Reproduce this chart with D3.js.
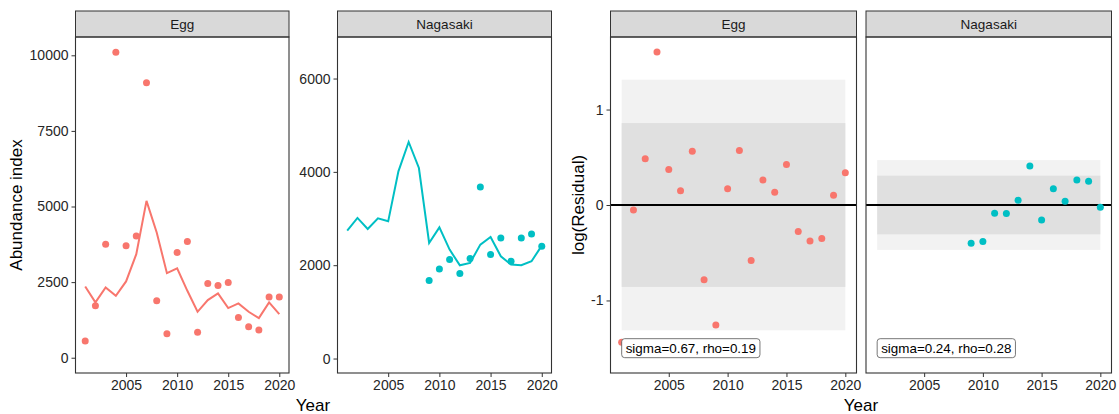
<!DOCTYPE html>
<html><head><meta charset="utf-8">
<script src="https://cdn.jsdelivr.net/npm/d3@7"></script>
<style>
body{margin:0;background:#fff;}
text{font-family:"Liberation Sans",Arial,sans-serif;}
</style></head>
<body><svg id="c" width="1119" height="414"></svg>
<script>
const years = d3.range(2001, 2021);
const eggObs  = [550,1717,3755,10100,3699,4029,9095,1882,793,3481,3844,839,2457,2391,2490,1334,1024,915,2005,2005];
const eggPred = [2358,1830,2325,2048,2523,3425,5185,4141,2797,2952,2213,1519,1906,2127,1641,1797,1519,1311,1830,1443];
const nagYears = d3.range(2009, 2021);
const nagObs  = [1670,1921,2120,1820,2141,3677,2227,2585,2084,2585,2670,2405];
const nagPred = [2741,3013,2777,3004,2940,4011,4640,4083,2477,2811,2334,1998,2049,2441,2606,2191,2013,1998,2084,2420];
const eggResid = [-1.438,-0.052,0.485,1.603,0.373,0.150,0.564,-0.784,-1.257,0.171,0.572,-0.581,0.261,0.133,0.425,-0.278,-0.376,-0.351,0.101,0.339];
const nagResid = [-0.400,-0.383,-0.087,-0.090,0.049,0.408,-0.157,0.171,0.039,0.261,0.248,-0.024];
const sigmas = [0.67, 0.24];
const rhos = [0.19, 0.28];
const facetNames = ["Egg", "Nagasaki"];
const xTicks = [2005, 2010, 2015, 2020];
const eggYTicks = [0, 2500, 5000, 7500, 10000];
const nagYTicks = [0, 2000, 4000, 6000];
const residYTicks = [-1, 0, 1];

const cols = ["#F8766D", "#00BFC4"];
const svg = d3.select("#c");
const pTop = 37, pBottom = 373, stripTop = 11;
const tickFont = 14;

function panel(x0, x1, name, yDomain, yTicks, showY) {
  const g = svg.append("g");
  const x = d3.scaleLinear().domain([2000.05, 2020.95]).range([x0, x1]);
  const y = d3.scaleLinear().domain(yDomain).range([pBottom, pTop]);
  g.append("rect").attr("x", x0).attr("y", stripTop).attr("width", x1 - x0).attr("height", pTop - stripTop)
    .attr("fill", "#d9d9d9").attr("stroke", "#333").attr("stroke-width", 1);
  g.append("text").attr("x", (x0 + x1) / 2).attr("y", (stripTop + pTop) / 2 + 5)
    .attr("text-anchor", "middle").attr("font-size", 13.5).attr("fill", "#1a1a1a").text(name);
  const content = g.append("g");
  const ax = g.append("g").attr("transform", `translate(0,${pBottom})`)
    .call(d3.axisBottom(x).tickValues(xTicks).tickFormat(d3.format("d")).tickSize(4).tickPadding(3));
  ax.select(".domain").remove();
  ax.selectAll("text").attr("font-size", tickFont).attr("fill", "#262626").attr("font-family", "Liberation Sans, Arial, sans-serif");
  ax.selectAll("line").attr("stroke", "#333");
  if (showY) {
    const ay = g.append("g").attr("transform", `translate(${x0},0)`)
      .call(d3.axisLeft(y).tickValues(yTicks).tickSize(4).tickPadding(3).tickFormat(d => String(d)));
    ay.select(".domain").remove();
    ay.selectAll("text").attr("font-size", tickFont).attr("fill", "#262626").attr("font-family", "Liberation Sans, Arial, sans-serif");
    ay.selectAll("line").attr("stroke", "#333");
  }
  g.append("rect").attr("x", x0).attr("y", pTop).attr("width", x1 - x0).attr("height", pBottom - pTop)
    .attr("fill", "none").attr("stroke", "#333").attr("stroke-width", 1.1);
  return {content, x, y, g};
}

{
  const p = panel(75.5, 289, facetNames[0], [-505, 10605], eggYTicks, true);
  p.content.append("path").datum(years.map((yr, i) => [yr, eggPred[i]]))
    .attr("d", d3.line().x(d => p.x(d[0])).y(d => p.y(d[1])))
    .attr("fill", "none").attr("stroke", cols[0]).attr("stroke-width", 2);
  p.content.selectAll("circle").data(years.map((yr, i) => [yr, eggObs[i]])).join("circle")
    .attr("cx", d => p.x(d[0])).attr("cy", d => p.y(d[1])).attr("r", 3.5).attr("fill", cols[0]);
}
{
  const p = panel(337.5, 551.5, facetNames[1], [-310, 6890], nagYTicks, true);
  p.content.append("path").datum(years.map((yr, i) => [yr, nagPred[i]]))
    .attr("d", d3.line().x(d => p.x(d[0])).y(d => p.y(d[1])))
    .attr("fill", "none").attr("stroke", cols[1]).attr("stroke-width", 2);
  p.content.selectAll("circle").data(nagYears.map((yr, i) => [yr, nagObs[i]])).join("circle")
    .attr("cx", d => p.x(d[0])).attr("cy", d => p.y(d[1])).attr("r", 3.5).attr("fill", cols[1]);
}
function residPanel(x0, x1, idx, yrs, vals, showY) {
  const p = panel(x0, x1, facetNames[idx], [-1.76, 1.76], residYTicks, showY);
  const s = sigmas[idx];
  const q95 = 1.959964 * s, q80 = 1.281552 * s;
  p.content.append("rect").attr("x", p.x(2001)).attr("width", p.x(2020) - p.x(2001))
    .attr("y", p.y(q95)).attr("height", p.y(-q95) - p.y(q95)).attr("fill", "#f2f2f2");
  p.content.append("rect").attr("x", p.x(2001)).attr("width", p.x(2020) - p.x(2001))
    .attr("y", p.y(q80)).attr("height", p.y(-q80) - p.y(q80)).attr("fill", "#e0e0e0");
  p.content.append("line").attr("x1", x0).attr("x2", x1).attr("y1", p.y(0)).attr("y2", p.y(0))
    .attr("stroke", "#000").attr("stroke-width", 1.8);
  p.content.selectAll("circle").data(yrs.map((yr, i) => [yr, vals[i]])).join("circle")
    .attr("cx", d => p.x(d[0])).attr("cy", d => p.y(d[1])).attr("r", 3.5).attr("fill", cols[idx]);
  const lab = p.content.append("g");
  const txt = lab.append("text").attr("x", p.x(2001) + 4).attr("y", p.y(-1.5) + 5)
    .attr("font-size", 13.4).attr("fill", "#000")
    .text(`sigma=${sigmas[idx].toFixed(2)}, rho=${rhos[idx].toFixed(2)}`);
  const bb = txt.node().getBBox();
  lab.insert("rect", "text").attr("x", p.x(2001)).attr("y", p.y(-1.5) - 9.5)
    .attr("width", bb.width + 8).attr("height", 19).attr("rx", 3).attr("ry", 3)
    .attr("fill", "#fff").attr("stroke", "#555").attr("stroke-width", 0.8);
}
residPanel(610.5, 856.5, 0, years, eggResid, true);
residPanel(866, 1111.5, 1, nagYears, nagResid, false);

svg.append("text").attr("transform", "translate(22,205) rotate(-90)").attr("text-anchor", "middle")
  .attr("font-size", 17).attr("fill", "#000").text("Abundance index");
svg.append("text").attr("x", 313).attr("y", 411).attr("text-anchor", "middle")
  .attr("font-size", 17).attr("fill", "#000").text("Year");
svg.append("text").attr("transform", "translate(584,205) rotate(-90)").attr("text-anchor", "middle")
  .attr("font-size", 17).attr("fill", "#000").text("log(Residual)");
svg.append("text").attr("x", 861).attr("y", 411).attr("text-anchor", "middle")
  .attr("font-size", 17).attr("fill", "#000").text("Year");
</script></body></html>
